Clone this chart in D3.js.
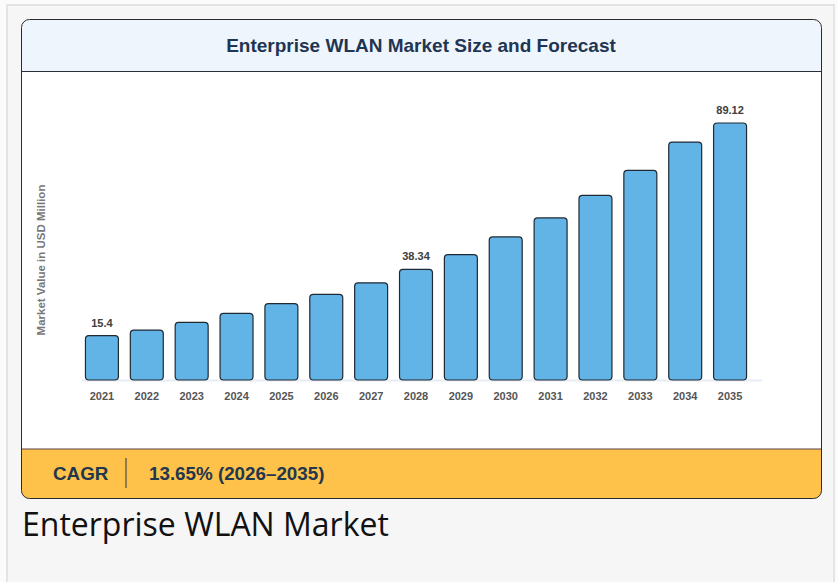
<!DOCTYPE html>
<html>
<head>
<meta charset="utf-8">
<script src="https://cdn.jsdelivr.net/npm/d3@7"></script>
<style>
  html, body { margin: 0; padding: 0; background: #ffffff; }
  svg { display: block; }
</style>
</head>
<body>
<svg id="chart" width="838" height="582"></svg>
<script>
const years = ["2021","2022","2023","2024","2025","2026","2027","2028","2029","2030","2031","2032","2033","2034","2035"];
const values = [15.4, 17.3, 20.0, 23.1, 26.5, 29.7, 33.7, 38.34, 43.5, 49.6, 56.2, 64.0, 72.7, 82.5, 89.12];
const labeledYears = ["2021", "2028", "2035"];
const chartTitle = "Enterprise WLAN Market Size and Forecast";
const yTitle = "Market Value in USD Million";
const cagrLabel = "CAGR";
const cagrValue = "13.65% (2026–2035)";
const caption = "Enterprise WLAN Market";

const svg = d3.select("#chart");
const font = "'Liberation Sans', Arial, Helvetica, sans-serif";

// page frame
svg.append("rect").attr("x", 0).attr("y", 0).attr("width", 838).attr("height", 582).attr("fill", "#fbfbfb");
svg.append("rect").attr("x", 7).attr("y", 5).attr("width", 827).attr("height", 590)
  .attr("fill", "#f6f6f6").attr("stroke", "#e4e4e4").attr("stroke-width", 2);

// card
const cx = 21.5, cy = 19.5, cw = 800, ch = 479;
const clip = svg.append("defs").append("clipPath").attr("id", "cardclip");
clip.append("rect").attr("x", cx).attr("y", cy).attr("width", cw).attr("height", ch).attr("rx", 8);
const card = svg.append("g").attr("clip-path", "url(#cardclip)");
card.append("rect").attr("x", cx).attr("y", cy).attr("width", cw).attr("height", ch).attr("fill", "#ffffff");
card.append("rect").attr("x", cx).attr("y", cy).attr("width", cw).attr("height", 52).attr("fill", "#eef5fd");
card.append("line").attr("x1", cx).attr("x2", cx + cw).attr("y1", 71.5).attr("y2", 71.5).attr("stroke", "#2a2f3a").attr("stroke-width", 1);
card.append("rect").attr("x", cx).attr("y", 449).attr("width", cw).attr("height", 50).attr("fill", "#fec24b");
card.append("line").attr("x1", cx).attr("x2", cx + cw).attr("y1", 449).attr("y2", 449).attr("stroke", "#5a4040").attr("stroke-width", 1);
svg.append("rect").attr("x", cx).attr("y", cy).attr("width", cw).attr("height", ch).attr("rx", 8)
  .attr("fill", "none").attr("stroke", "#2b2b2b").attr("stroke-width", 1);

svg.append("text").attr("x", 421).attr("y", 52).attr("text-anchor", "middle")
  .attr("font-family", font).attr("font-weight", "bold").attr("font-size", 19)
  .attr("fill", "#1f3553").text(chartTitle);

// scales
const x = d3.scaleBand().domain(years).range([79.5, 752.5]).paddingInner(0.243).paddingOuter(0.1215);
const y = d3.scaleLinear().domain([0, 100]).range([380, 91.6]);

// baseline
svg.append("line").attr("x1", 82).attr("x2", 762).attr("y1", 380.5).attr("y2", 380.5)
  .attr("stroke", "#e6edf5").attr("stroke-width", 2);

// bars
svg.append("g").selectAll("rect").data(years).join("rect")
  .attr("x", d => x(d) + 0.5)
  .attr("y", (d, i) => y(values[i]))
  .attr("width", x.bandwidth() - 1)
  .attr("height", (d, i) => y(0) - y(values[i]))
  .attr("rx", 3.5)
  .attr("fill", "#62b3e6")
  .attr("stroke", "#1f2a33").attr("stroke-width", 1.2);

// value labels
svg.append("g").selectAll("text").data(years.filter(d => labeledYears.includes(d))).join("text")
  .attr("x", d => x(d) + x.bandwidth() / 2)
  .attr("y", d => y(values[years.indexOf(d)]) - 9)
  .attr("text-anchor", "middle")
  .attr("font-family", font).attr("font-weight", "bold").attr("font-size", 11)
  .attr("fill", "#3d3d3d")
  .text(d => values[years.indexOf(d)]);

// x axis
const xAxis = svg.append("g").attr("transform", "translate(0,380)")
  .call(d3.axisBottom(x).tickSize(0).tickPadding(12));
xAxis.select(".domain").remove();
xAxis.selectAll("text").attr("font-family", font).attr("font-weight", "bold").attr("font-size", 11).attr("fill", "#555");

// y title
svg.append("text").attr("transform", "translate(45,260) rotate(-90)").attr("text-anchor", "middle")
  .attr("font-family", font).attr("font-weight", "bold").attr("font-size", 11.5)
  .attr("fill", "#777").text(yTitle);

// footer
svg.append("text").attr("x", 53).attr("y", 480)
  .attr("font-family", font).attr("font-weight", "bold").attr("font-size", 18.8)
  .attr("fill", "#22364d").text(cagrLabel);
svg.append("line").attr("x1", 126).attr("x2", 126).attr("y1", 458).attr("y2", 488)
  .attr("stroke", "#22364d").attr("stroke-width", 1);
svg.append("text").attr("x", 149).attr("y", 480)
  .attr("font-family", font).attr("font-weight", "bold").attr("font-size", 18.8)
  .attr("fill", "#22364d").text(cagrValue);

// caption
svg.append("text").attr("x", 22).attr("y", 536)
  .attr("font-family", "'Open Sans', 'Noto Sans', sans-serif").attr("font-size", 32)
  .attr("fill", "#111").text(caption);
</script>
</body>
</html>
